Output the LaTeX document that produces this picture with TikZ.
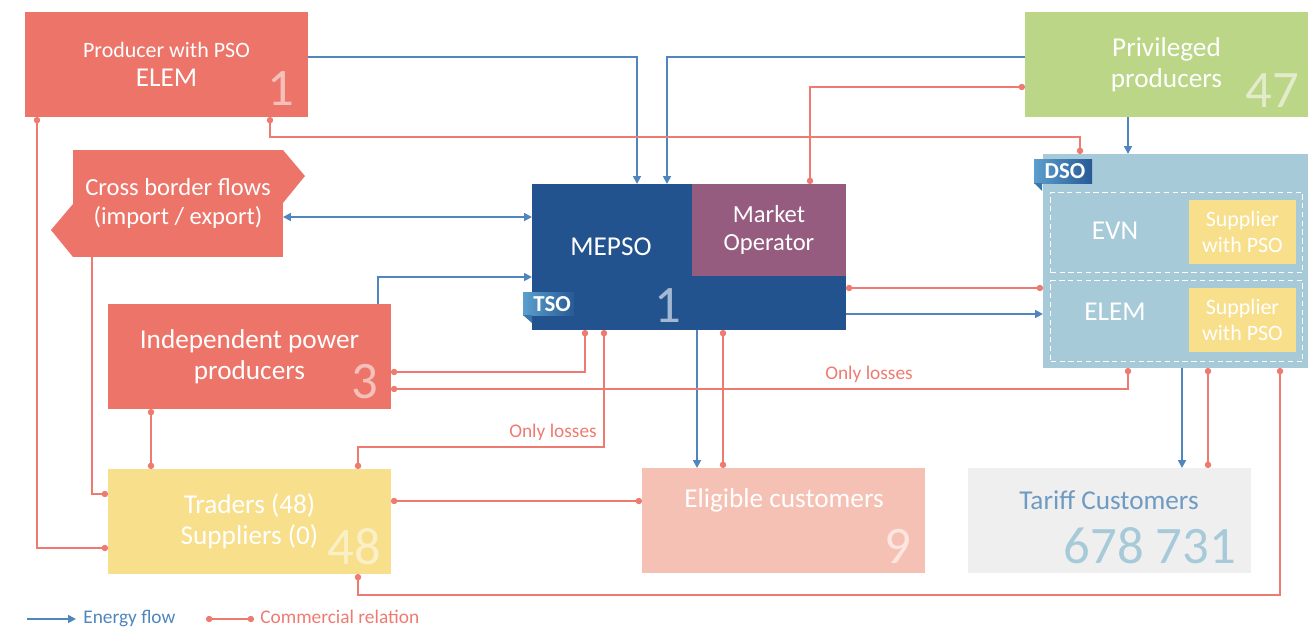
\documentclass[tikz,border=0pt]{standalone}
\usepackage{fontspec}
\setmainfont{Carlito}
\usetikzlibrary{arrows.meta,calc,positioning}

\definecolor{prodred}{RGB}{236,116,105}
\definecolor{numpink}{RGB}{246,192,186}
\definecolor{mepsoblue}{RGB}{34,83,143}
\definecolor{mepsonum}{RGB}{163,184,211}
\definecolor{mopurple}{RGB}{149,92,128}
\definecolor{privgreen}{RGB}{188,214,135}
\definecolor{privnum}{RGB}{226,236,203}
\definecolor{dsoblue}{RGB}{167,202,217}
\definecolor{supyellow}{RGB}{248,223,139}
\definecolor{tradnum}{RGB}{251,239,198}
\definecolor{eligpink}{RGB}{245,193,180}
\definecolor{elignum}{RGB}{252,230,223}
\definecolor{tariffgray}{RGB}{239,239,239}
\definecolor{tarifftext}{RGB}{109,155,195}
\definecolor{flowblue}{RGB}{78,134,189}
\definecolor{relred}{RGB}{238,123,114}
\definecolor{tagl}{RGB}{90,159,205}
\definecolor{tagr}{RGB}{40,90,150}
\definecolor{tagfold}{RGB}{59,118,168}

\newcommand\boxfont{\fontsize{15.5}{17.6}\selectfont}
\newcommand\midfont{\fontsize{14}{16.2}\selectfont}
\newcommand\smallfont{\fontsize{12.5}{14.7}\selectfont}
\newcommand\notefont{\fontsize{11}{13}\selectfont}
\newcommand\numfont{\fontsize{30}{32}\selectfont}
\newcommand\tagfont{\fontsize{13}{15}\selectfont\bfseries}

\begin{document}
\begin{tikzpicture}[x=0.02cm, y=-0.02cm,
  box/.style={anchor=north west, inner sep=0pt, outer sep=0pt, text=white, align=center},
  stdbox/.style={box, minimum width=5.66cm, minimum height=2.1cm},
  dashbox/.style={anchor=north west, inner sep=0pt, draw=white, line width=0.8pt,
    dash pattern=on 3pt off 2pt, minimum width=5.04cm},
  supbox/.style={box, fill=supyellow, minimum width=2.14cm, minimum height=1.28cm, font=\smallfont},
  num/.style={anchor=base, inner sep=0pt, font=\numfont},
  lbl/.style={text=white, font=\boxfont, inner sep=0pt},
  note/.style={text=relred, font=\notefont, inner sep=0pt},
  flow/.style={flowblue, line width=1pt, -{Triangle[length=4.5pt,width=4.5pt]}},
  flowboth/.style={flowblue, line width=1pt, {Triangle[length=4.5pt,width=4.5pt]}-{Triangle[length=4.5pt,width=4.5pt]}},
  rel/.style={relred, line width=1pt, {Circle[length=3.6pt]}-{Circle[length=3.6pt]}},
  relend/.style={relred, line width=1pt, -{Circle[length=3.6pt]}}]
\useasboundingbox (0,0) rectangle (1308,630);

% Erzeuger
\node[stdbox, fill=prodred, font=\smallfont] (prod) at (25,12) {Producer with PSO\\[2pt]{\boxfont ELEM}};
\node[num, text=numpink] (prodnum) at (281,105) {1};

\node[box, fill=prodred, minimum width=4.2cm, minimum height=2.14cm, font=\midfont] (cbf) at (73,150) {Cross border flows\\(import / export)};
\fill[prodred] (cbf.north east) -- ++(22,26) -- ++(-22,27) -- cycle;
\fill[prodred] (cbf.south west) -- ++(-22,-27) -- ++(22,-26) -- cycle;

\node[stdbox, fill=prodred, font=\boxfont] (ipp) at (108,304) {Independent power\\producers};
\node[num, text=numpink] (ippnum) at (365,398) {3};

\node[stdbox, fill=privgreen, font=\boxfont] (priv) at (1025,12) {Privileged\\producers};
\node[num, text=privnum] (privnum) at (1272,107) {47};

% Haendler, Kunden
\node[stdbox, fill=supyellow, font=\boxfont] (trad) at (108,469) {Traders (48)\\Suppliers (0)};
\node[num, text=tradnum] (tradnum) at (354,564) {48};

\node[stdbox, fill=eligpink] (elig) at (642,468) {};
\node[lbl] (eliglbl) at (784,500) {Eligible customers};
\node[num, text=elignum] (elignum) at (898,563) {9};

\node[stdbox, fill=tariffgray] (tariff) at (968,468) {};
\node[lbl, text=tarifftext] (tarifflbl) at (1109,500) {Tariff Customers};
\node[num, text=dsoblue] (tariffnum) at (1150,563) {678 731};

% TSO
\node[box, fill=mepsoblue, minimum width=6.28cm, minimum height=2.92cm] (mepso) at (532,184) {};
\node[box, fill=mopurple, minimum width=3.08cm, minimum height=1.84cm, font=\midfont] (mo) at (692,184) {Market\\Operator};
\node[lbl] (mepsolbl) at (611,247) {MEPSO};
\node[num, text=mepsonum] (mepsonum) at (668,322) {1};
\shade[left color=tagl, right color=tagr] (523,292) rectangle (574,315);
\fill[tagfold] (523,315) -- (532,315) -- (532,323) -- cycle;
\node[text=white, font=\tagfont, inner sep=0pt] (tso) at (552,304) {TSO};

% DSO
\node[box, fill=dsoblue, minimum width=5.3cm, minimum height=4.28cm] (dso) at (1043,154) {};
\node[dashbox, minimum height=1.6cm] (evnbox) at (1050,192) {};
\node[dashbox, minimum height=1.62cm] (elembox) at (1050,280) {};
\node[supbox] (sup1) at (1189,200) {Supplier\\with PSO};
\node[supbox] (sup2) at (1189,288) {Supplier\\with PSO};
\node[lbl] (evnlbl) at (1115,231) {EVN};
\node[lbl] (elemlbl) at (1115,312) {ELEM};
\shade[left color=tagl, right color=tagr] (1034,159) rectangle (1092,183);
\fill[tagfold] (1034,183) -- (1042,183) -- (1042,191) -- cycle;
\node[text=white, font=\tagfont, inner sep=0pt] (dsotag) at (1065,171) {DSO};

% Energiefluss
\draw[flow] ($(prod.north east)+(0,45)$) -| ($(mepso.north west)+(105,0)$);
\draw[flow] ($(priv.north west)+(0,45)$) -| ($(mepso.north west)+(135,0)$);
\draw[flow] ($(priv.south west)+(103,0)$) -- ($(dso.north west)+(85,0)$);
\draw[flowboth] ($(cbf.north east)+(0,67)$) -- ($(mepso.north west)+(0,33)$);
\draw[flow] ($(ipp.north west)+(270,0)$) |- ($(mepso.north west)+(0,93)$);
\draw[flow] ($(mepso.north east)+(0,130)$) -- ($(dso.north west)+(0,160)$);
\draw[flow] ($(mepso.south west)+(165,0)$) -- ($(elig.north west)+(55,0)$);
\draw[flow] ($(dso.south west)+(139,0)$) -- ($(tariff.north west)+(214,0)$);

% Handelsbeziehungen
\draw[rel] ($(prod.south west)+(12,0)$) |- ($(trad.north west)+(0,79)$);
\draw[rel] ($(prod.south west)+(245,0)$) -- ++(0,20) -| ($(dso.north west)+(37,0)$);
\draw[rel] ($(priv.north west)+(0,75)$) -| ($(mo.north west)+(118,0)$);
\draw[relend] ($(cbf.south west)+(19,0)$) |- ($(trad.north west)+(0,25)$);
\draw[rel] ($(ipp.south west)+(43,0)$) -- ($(trad.north west)+(43,0)$);
\draw[rel] ($(ipp.north east)+(0,68)$) -| ($(mepso.south west)+(53,0)$);
\draw[rel] ($(ipp.north east)+(0,85)$) -| ($(dso.south west)+(85,0)$);
\draw[rel] ($(mepso.south west)+(72,0)$) |- ($(trad.north west)+(250,-22)$) -- ($(trad.north west)+(250,0)$);
\draw[rel] ($(mepso.south west)+(191,0)$) -- ($(elig.north west)+(81,0)$);
\draw[rel] ($(mepso.north east)+(0,104)$) -- ($(dso.north west)+(0,134)$);
\draw[rel] ($(trad.north east)+(0,32)$) -- ($(elig.north west)+(0,33)$);
\draw[rel] ($(dso.south west)+(165,0)$) -- ($(tariff.north west)+(240,0)$);
\draw[rel] ($(trad.south west)+(250,0)$) -- ++(0,21) -| ($(dso.south west)+(237,0)$);
\node[note] (loss1) at (553,432) {Only losses};
\node[note] (loss2) at (869,374) {Only losses};

% Legende
\coordinate (lf1) at (27,619);
\coordinate (lf2) at (76,619);
\draw[flow] (lf1) -- (lf2);
\node[anchor=base west, text=flowblue, font=\notefont, inner sep=0pt] (lgflow) at (83,623) {Energy flow};
\coordinate (lr1) at (206,619);
\coordinate (lr2) at (254,619);
\draw[rel] (lr1) -- (lr2);
\node[anchor=base west, text=relred, font=\notefont, inner sep=0pt] (lgrel) at (260,623) {Commercial relation};

\end{tikzpicture}
\end{document}
